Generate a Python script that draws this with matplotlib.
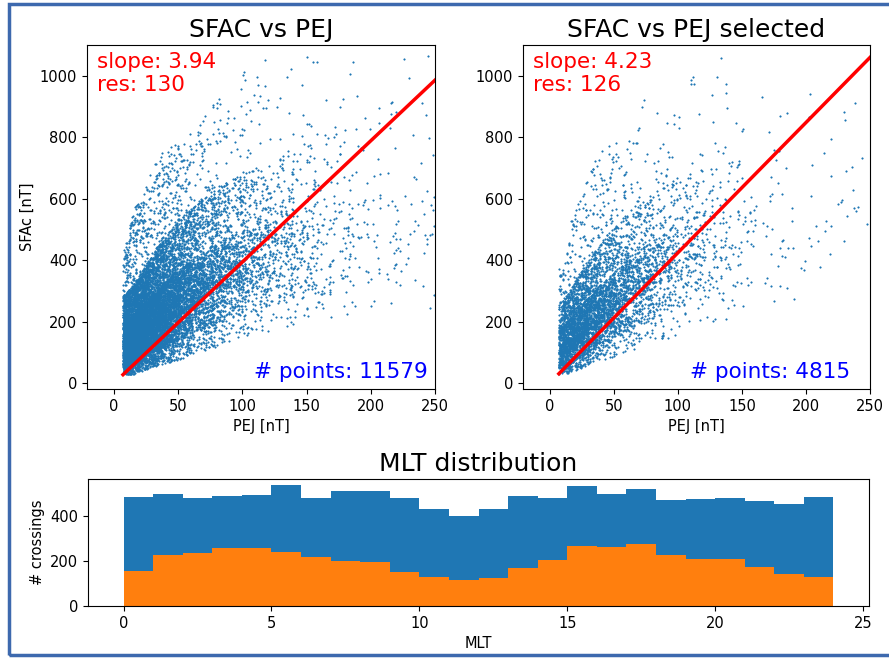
import numpy as np
import matplotlib.pyplot as plt
from matplotlib.patches import Rectangle

# PEJ bins (nT) and number of crossings in each, all / selected
pej_edges = [7, 10, 20, 30, 40, 50, 60, 70, 80, 90, 100, 120, 140, 160, 190, 220, 250]
counts_all = [650, 2250, 2000, 1600, 1200, 900, 680, 520, 400, 300, 430, 260, 160, 120, 65, 44]
counts_sel = [220, 840, 840, 696, 530, 410, 310, 240, 180, 135, 180, 105, 55, 38, 20, 16]

# SFAC quantiles per PEJ bin at these probability levels
levels = [0.0, 0.05, 0.25, 0.5, 0.75, 0.95, 1.0]
sfac_q_all = [
    [30, 50, 95, 140, 200, 290, 440],
    [30, 65, 115, 162, 225, 320, 560],
    [45, 90, 150, 203, 270, 385, 650],
    [60, 110, 180, 240, 312, 450, 740],
    [70, 130, 210, 275, 350, 505, 780],
    [85, 150, 235, 305, 385, 550, 800],
    [100, 170, 260, 330, 415, 590, 830],
    [110, 185, 280, 355, 440, 620, 900],
    [120, 200, 300, 380, 470, 650, 950],
    [140, 220, 320, 400, 495, 680, 1000],
    [160, 240, 340, 420, 510, 700, 1050],
    [180, 260, 360, 445, 545, 740, 1070],
    [200, 280, 380, 470, 575, 790, 1070],
    [220, 290, 400, 495, 605, 830, 1070],
    [220, 300, 420, 520, 640, 900, 1070],
    [240, 300, 430, 540, 680, 950, 1070],
]
sfac_q_sel = [
    [30, 50, 90, 130, 180, 265, 390],
    [35, 62, 110, 152, 210, 300, 520],
    [50, 90, 150, 198, 260, 370, 620],
    [65, 115, 185, 238, 302, 430, 740],
    [80, 140, 215, 275, 345, 485, 770],
    [90, 160, 245, 305, 380, 530, 790],
    [110, 180, 270, 335, 415, 580, 810],
    [120, 200, 295, 365, 450, 620, 950],
    [140, 220, 315, 390, 475, 660, 870],
    [150, 240, 340, 420, 510, 700, 880],
    [160, 260, 365, 450, 550, 730, 1000],
    [200, 280, 395, 480, 590, 790, 1070],
    [220, 300, 415, 505, 625, 840, 1060],
    [260, 330, 440, 535, 655, 870, 1050],
    [280, 360, 460, 560, 700, 950, 1040],
    [330, 400, 500, 600, 720, 950, 1030],
]

fit_all = (3.94, 1.0, 130)   # slope, intercept, residual
fit_sel = (4.23, 2.0, 126)

# MLT histogram (crossings per hour bin)
mlt_edges = np.arange(0, 25)
mlt_all = [483, 498, 482, 491, 494, 537, 482, 513, 510, 479, 431, 400,
           431, 489, 480, 532, 497, 520, 470, 477, 482, 468, 452, 486]
mlt_sel = [155, 229, 236, 257, 257, 239, 216, 199, 196, 153, 129, 114,
           123, 170, 204, 266, 263, 277, 228, 210, 210, 172, 143, 131]


def spread_points(edges, counts, qtable, offset):
    # quadratic Weyl sequences place the points inside each bin,
    # y follows the SFAC quantile curves at the point's PEJ
    edges = np.asarray(edges, float)
    q = np.asarray(qtable, float)
    centers = 0.5 * (edges[:-1] + edges[1:])
    xs, ys = [], []
    start = offset
    for i, n in enumerate(counts):
        k = np.arange(start, start + n, dtype=float)
        start += n
        u1 = (k * k * np.sqrt(2) + k * np.sqrt(3)) % 1
        u2 = (k * k * np.sqrt(5) + k * np.sqrt(7)) % 1
        x = edges[i] + u1 * (edges[i + 1] - edges[i])
        qx = np.array([np.interp(x, centers, q[:, j]) for j in range(q.shape[1])]).T
        y = np.array([np.interp(u2[m], levels, qx[m]) for m in range(n)])
        xs.append(x)
        ys.append(y)
    return np.concatenate(xs), np.concatenate(ys)


pej_all, sfac_all = spread_points(pej_edges, counts_all, sfac_q_all, 1)
pej_sel, sfac_sel = spread_points(pej_edges, counts_sel, sfac_q_sel, 20001)

fig = plt.figure(figsize=(8.89, 6.58), dpi=100)
ax1 = fig.add_axes([0.0979, 0.4088, 0.3915, 0.5228])
ax2 = fig.add_axes([0.5883, 0.4088, 0.3903, 0.5228])
ax3 = fig.add_axes([0.099, 0.079, 0.8785, 0.1926])

for ax, px, sy, fit, title in [(ax1, pej_all, sfac_all, fit_all, 'SFAC vs PEJ'),
                               (ax2, pej_sel, sfac_sel, fit_sel, 'SFAC vs PEJ selected')]:
    slope, icpt, res = fit
    ax.scatter(px, sy, s=1, linewidths=0.5, color='tab:blue')
    xl = np.array([px.min(), 260])
    ax.plot(xl, slope * xl + icpt, color='red', lw=2.5)
    ax.set_xlim(-21, 250)
    ax.set_ylim(-18, 1100)
    ax.set_title(title, fontsize=18)
    ax.set_xlabel('PEJ [nT]', fontsize=10.5)
    ax.tick_params(labelsize=10.5)
    ax.text(0.03, 0.98, 'slope: %.2f\nres: %d' % (slope, res), color='red',
            fontsize=15.5, transform=ax.transAxes, va='top', ha='left')
    ax.text(0.48, 0.02, '# points: %d' % len(px), color='blue', fontsize=15.5,
            transform=ax.transAxes, va='bottom', ha='left')
ax1.set_ylabel('SFAc [nT]', fontsize=10.5)

ax3.hist(mlt_edges[:-1], bins=mlt_edges, weights=mlt_all, color='tab:blue')
ax3.hist(mlt_edges[:-1], bins=mlt_edges, weights=mlt_sel, color='tab:orange')
ax3.set_title('MLT distribution', fontsize=18)
ax3.set_xlabel('MLT', fontsize=10.5)
ax3.set_ylabel('# crossings', fontsize=10.5)
ax3.tick_params(labelsize=10.5)

# slide frame
fig.patches.append(Rectangle((8.5 / 889, 3 / 658), 1.2, 1 - 6.5 / 658,
                             transform=fig.transFigure, fill=False,
                             edgecolor='#3d69ae', lw=2.5))

fig.savefig('out.png', dpi=100)
